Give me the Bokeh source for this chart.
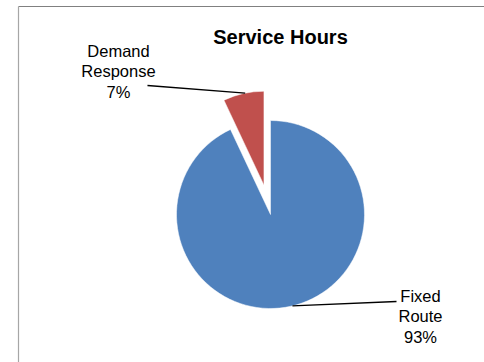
import math
from bokeh.plotting import figure
from bokeh.models import Range1d
from bokeh.core.properties import value
from bokeh.embed import file_html
from bokeh.resources import INLINE

# ---- data ----
title = "Service Hours"
categories = ["Fixed Route", "Demand Response"]
values = [93, 7]
label_lines = [["Fixed", "Route", "93%"], ["Demand", "Response", "7%"]]
colors = ["#4F81BD", "#C0504D"]

# ---- layout (pixel-like coordinates, y up) ----
W, H = 484, 362
cx, cy = 270, H - 214
R = 94
explode = [0, 30]

p = figure(width=W, height=H, output_backend="svg", toolbar_location=None,
           x_range=Range1d(0, W), y_range=Range1d(0, H), min_border=0,
           outline_line_color=None, background_fill_color="white",
           border_fill_color="white")
p.axis.visible = False
p.grid.visible = False

# chart border (only top and left visible in crop)
p.segment(x0=[18], y0=[H - 6], x1=[W + 5], y1=[H - 6], line_color="#808080", line_width=1.2)
p.segment(x0=[18], y0=[H - 6], x1=[18], y1=[-5], line_color="#A6A6A6", line_width=1.2)

total = sum(values)
# Demand Response goes counter-clockwise from 12 o'clock; Fixed Route fills the rest
frac_d = values[1] / total
starts = [math.pi / 2 + 2 * math.pi * frac_d, math.pi / 2]
ends = [math.pi / 2 + 2 * math.pi, math.pi / 2 + 2 * math.pi * frac_d]

centers = []
for i in range(2):
    mid = (starts[i] + ends[i]) / 2
    x = cx + explode[i] * math.cos(mid)
    y = cy + explode[i] * math.sin(mid)
    centers.append((x, y))
    p.wedge(x=[x], y=[y], radius=R, start_angle=starts[i], end_angle=ends[i],
            fill_color=colors[i], line_color="white", line_width=0.5)

# title
p.text(x=[280], y=[H - 36], text=[title], text_font=value("Liberation Sans"),
       text_font_style="bold", text_font_size="20px", text_align="center",
       text_baseline="middle", text_color="black")

# labels
label_pos = [(420, H - 295), (118, H - 50)]
for i in range(2):
    lx, ly = label_pos[i]
    for k, t in enumerate(label_lines[i]):
        p.text(x=[lx], y=[ly - 20.5 * k], text=[t], text_font=value("Liberation Sans"),
               text_font_size="16.5px", text_align="center", text_baseline="middle",
               text_color="black")

# leader lines
leader_angle = [math.radians(-76.5), math.radians(101.5)]
leader_end = [(396, H - 301), (147, H - 85)]
for i in range(2):
    x0 = centers[i][0] + R * math.cos(leader_angle[i])
    y0 = centers[i][1] + R * math.sin(leader_angle[i])
    p.segment(x0=[x0], y0=[y0], x1=[leader_end[i][0]], y1=[leader_end[i][1]],
              line_color="black", line_width=1.3)

open("out.html", "w").write(file_html(p, INLINE))
